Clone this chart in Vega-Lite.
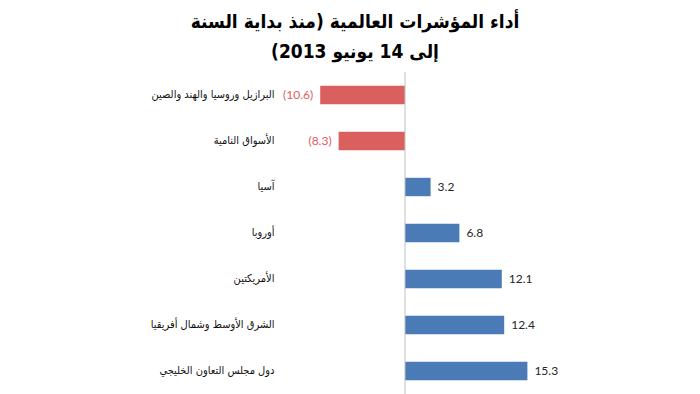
{
  "$schema": "https://vega.github.io/schema/vega-lite/v6.json",
  "autosize": {"type": "none"},
  "padding": {"left": 285, "top": 72, "right": 0, "bottom": 0},
  "width": 360,
  "height": 322,
  "background": "white",
  "config": {"view": {"stroke": null}},
  "title": {
    "text": ["\u202bأداء المؤشرات العالمية  (منذ بداية السنة\u202c", "\u202bإلى 14 يونيو 2013)\u202c"],
    "font": "DejaVu Sans Condensed, DejaVu Sans",
    "fontSize": 19,
    "fontWeight": "bold",
    "color": "#000000",
    "anchor": "middle",
    "dx": -110,
    "offset": 10,
    "lineHeight": 30
  },
  "data": {
    "values": [
      {"region": "البرازيل وروسيا والهند والصين", "value": -10.6, "label": "(10.6)", "sign": "neg"},
      {"region": "الأسواق النامية", "value": -8.3, "label": "(8.3)", "sign": "neg"},
      {"region": "آسيا", "value": 3.2, "label": "3.2", "sign": "pos"},
      {"region": "أوروبا", "value": 6.8, "label": "6.8", "sign": "pos"},
      {"region": "الأمريكتين", "value": 12.1, "label": "12.1", "sign": "pos"},
      {"region": "الشرق الأوسط وشمال أفريقيا", "value": 12.4, "label": "12.4", "sign": "pos"},
      {"region": "دول مجلس التعاون الخليجي", "value": 15.3, "label": "15.3", "sign": "pos"}
    ]
  },
  "encoding": {
    "y": {
      "field": "region",
      "type": "nominal",
      "sort": null,
      "scale": {"paddingInner": 0.6, "paddingOuter": 0.3},
      "axis": {
        "title": null,
        "domain": false,
        "ticks": false,
        "labelPadding": 11,
        "labelFont": "DejaVu Sans Condensed, DejaVu Sans",
        "labelFontSize": 11,
        "labelColor": "#111111",
        "labelLimit": 300
      }
    }
  },
  "layer": [
    {
      "mark": {"type": "bar"},
      "encoding": {
        "x": {
          "field": "value",
          "type": "quantitative",
          "scale": {"domain": [-15, 30], "nice": false},
          "axis": null
        },
        "color": {
          "field": "sign",
          "type": "nominal",
          "scale": {"domain": ["neg", "pos"], "range": ["#D9605E", "#4A7BB7"]},
          "legend": null
        }
      }
    },
    {
      "mark": {"type": "rule", "color": "#BFBFBF", "strokeWidth": 1},
      "data": {"values": [{"zero": 0}]},
      "encoding": {
        "x": {"field": "zero", "type": "quantitative"},
        "y": null
      }
    },
    {
      "transform": [{"filter": "datum.value > 0"}],
      "mark": {"type": "text", "align": "left", "baseline": "middle", "dx": 7, "font": "Lato", "fontSize": 12, "color": "#262626"},
      "encoding": {
        "x": {"field": "value", "type": "quantitative"},
        "text": {"field": "label"}
      }
    },
    {
      "transform": [{"filter": "datum.value < 0"}],
      "mark": {"type": "text", "align": "right", "baseline": "middle", "dx": -7, "font": "Lato", "fontSize": 12, "color": "#D9605E"},
      "encoding": {
        "x": {"field": "value", "type": "quantitative"},
        "text": {"field": "label"}
      }
    }
  ]
}
